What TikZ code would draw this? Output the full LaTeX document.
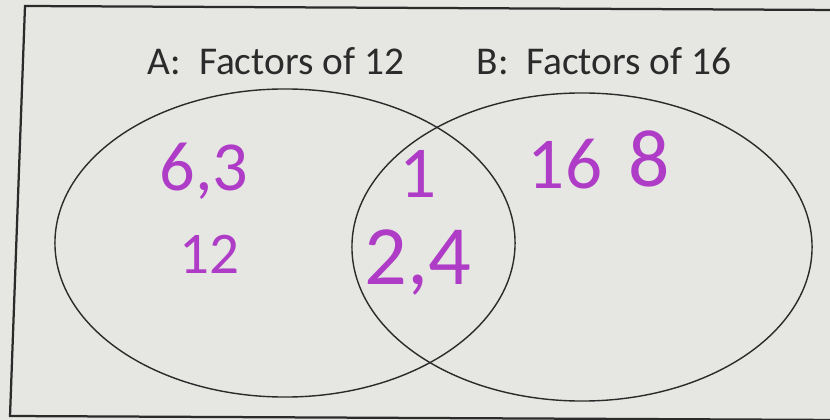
\documentclass[tikz,border=0pt]{standalone}
\usepackage{fontspec}
\setmainfont{Carlito}
\usepackage{tikz}
\usetikzlibrary{shapes.geometric}
\definecolor{papercol}{HTML}{E6E6E3}
\definecolor{inkcol}{HTML}{2B2B2B}
\definecolor{pencol}{HTML}{AE3CC6}

\begin{document}
\begin{tikzpicture}[
  x=0.025cm, y=-0.025cm,
  setshape/.style={ellipse, draw=inkcol, line width=1pt,
                   minimum width=11.5cm, minimum height=7.7cm, inner sep=0pt},
  title/.style={font=\fontsize{28}{32}\selectfont, text=inkcol,
                anchor=base, inner sep=0pt},
  pen/.style={text=pencol, anchor=base, inner sep=0pt},
]
\useasboundingbox (0,0) rectangle (830,420);
\fill[papercol] (0,0) rectangle (830,420);

%% outer frame (runs off the right edge)
\draw[inkcol, line width=1.6pt] (840,10) -- (25,6) -- (10,416) -- (840,420);

%% the two sets
\node[setshape] (setA) at (285,243) {};
\node[setshape] (setB) at (582,247) {};

\node[title] (labA) at (276,75) {A:\ \ Factors of 12};
\node[title] (labB) at (604,75) {B:\ \ Factors of 16};

%% handwritten entries
\node[pen, font=\fontsize{50}{56}\selectfont] (onlyA1) at (204,190) {6,3};
\node[pen, font=\fontsize{42}{48}\selectfont] (onlyA2) at (209,273) {12};
\node[pen, font=\fontsize{52}{58}\selectfont] (both1)  at (418,197) {1};
\node[pen, font=\fontsize{60}{66}\selectfont] (both2)  at (418,284) {2,4};
\node[pen, font=\fontsize{52}{58}\selectfont] (onlyB1) at (565,189) {16};
\node[pen, font=\fontsize{58}{64}\selectfont] (onlyB2) at (649,187) {8};

\end{tikzpicture}
\end{document}
